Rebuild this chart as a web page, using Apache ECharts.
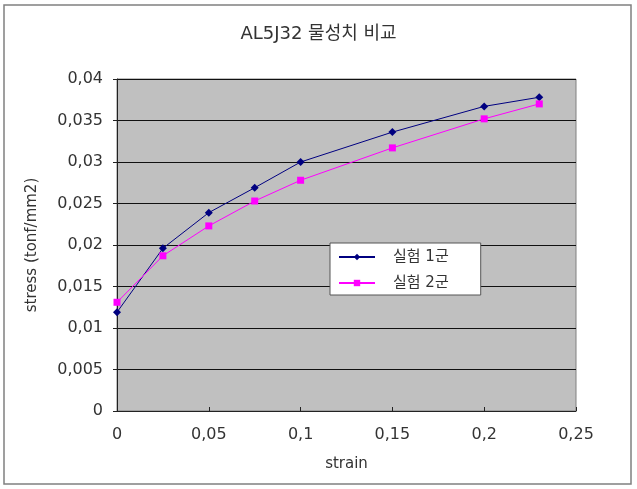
<!DOCTYPE html>
<html>
<head>
<meta charset="utf-8">
<script src="https://cdn.jsdelivr.net/npm/echarts@6/dist/echarts.min.js"></script>
<style>
html,body{margin:0;padding:0;background:#fff;}
#chart{width:637px;height:489px;}
</style>
</head>
<body>
<div id="chart"></div>
<script>
var strain = [0, 0.025, 0.05, 0.075, 0.1, 0.15, 0.2, 0.23];
var group1 = [0.0119, 0.0196, 0.0239, 0.0269, 0.0300, 0.0336, 0.0367, 0.0378];
var group2 = [0.0131, 0.0187, 0.0223, 0.0253, 0.0278, 0.0317, 0.0352, 0.0370];
var seriesNames = ["실험 1군", "실험 2군"];

function pairs(xs, ys){
    var res = [];
    for(var i=0;i<xs.length;i++){
        res.push([xs[i], ys[i]]);
    }
    return res;
}
// 소수점은 쉼표로 표시
function comma(v){
    return String(+v.toFixed(4)).replace('.', ',');
}

var font = 'DejaVu Sans, "Noto Sans CJK KR", sans-serif';
var myChart = echarts.init(document.getElementById("chart"));
var option = {
    animation:false,
    backgroundColor:'#fff',
    graphic:[{
        type:'rect',
        shape:{x:4, y:5, width:627, height:479},
        style:{fill:'none', stroke:'#808080', lineWidth:1.5}
    }],
    title:{
        text:"AL5J32 물성치 비교",
        left:'center',
        top:20,
        textStyle:{fontSize:18, fontWeight:'normal', color:'#333', fontFamily:font}
    },
    legend:{
        data:seriesNames,
        orient:'vertical',
        left:330,
        top:243,
        itemWidth:36,
        itemHeight:8,
        itemGap:10,
        padding:[6,32,4,8],
        backgroundColor:'#fff',
        borderColor:'#555',
        borderWidth:1,
        textStyle:{fontSize:15, lineHeight:16, color:'#333', fontFamily:font, padding:[0,0,0,13]}
    },
    grid:{
        left:117,
        right:61,
        top:79,
        bottom:78,
        show:true,
        backgroundColor:'#c0c0c0',
        borderColor:'#808080',
        borderWidth:1
    },
    xAxis:{
        type:'value',
        min:0,
        max:0.25,
        interval:0.05,
        name:'strain',
        nameLocation:'middle',
        nameGap:46,
        nameTextStyle:{fontSize:15, color:'#333', fontFamily:font},
        axisLine:{show:true, onZero:false, lineStyle:{color:'#222'}},
        axisTick:{show:true, inside:true, length:4, lineStyle:{color:'#222'}},
        axisLabel:{fontSize:16, color:'#333', fontFamily:font, margin:16, formatter:comma},
        splitLine:{show:false}
    },
    yAxis:{
        type:'value',
        min:0,
        max:0.04,
        interval:0.005,
        name:'stress (tonf/mm2)',
        nameLocation:'middle',
        nameGap:77,
        nameTextStyle:{fontSize:15, color:'#333', fontFamily:font},
        axisLine:{show:true, lineStyle:{color:'#222'}},
        axisTick:{show:true, length:4, lineStyle:{color:'#222'}},
        axisLabel:{fontSize:16, color:'#333', fontFamily:font, margin:14, formatter:comma},
        splitLine:{show:true, lineStyle:{color:'#111', width:1}}
    },
    series:[{
        name:seriesNames[0],
        type:'line',
        data:pairs(strain, group1),
        symbol:'diamond',
        symbolSize:8,
        color:'#000080',
        lineStyle:{width:1, color:'#000080'},
        itemStyle:{color:'#000080'}
    },{
        name:seriesNames[1],
        type:'line',
        data:pairs(strain, group2),
        symbol:'rect',
        symbolSize:7,
        color:'#ff00ff',
        lineStyle:{width:1, color:'#ff00ff'},
        itemStyle:{color:'#ff00ff'}
    }]
};
myChart.setOption(option);
</script>
</body>
</html>
